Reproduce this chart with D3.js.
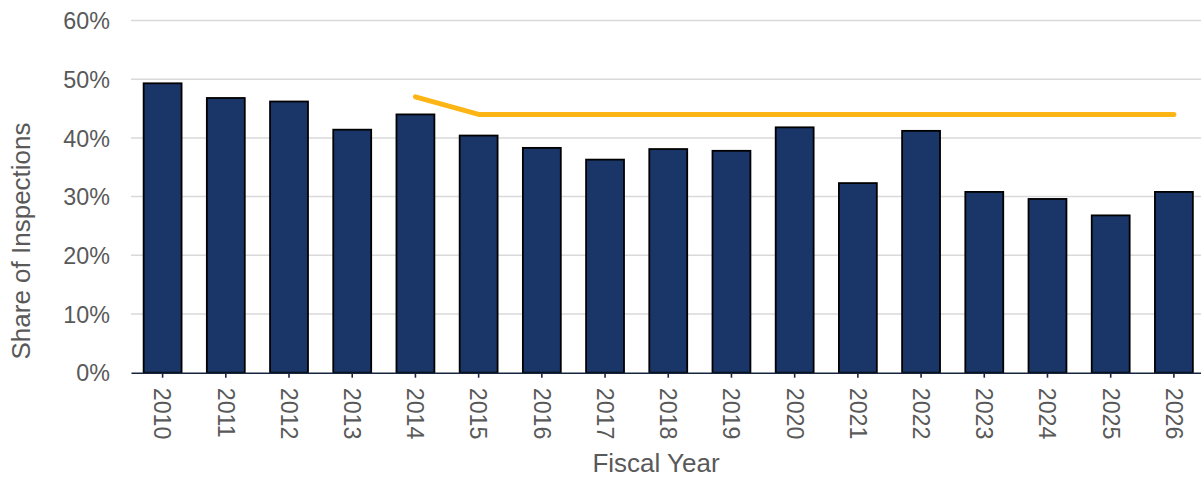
<!DOCTYPE html>
<html>
<head>
<meta charset="utf-8">
<script src="https://cdn.jsdelivr.net/npm/d3@7"></script>
<style>
  html, body { margin: 0; padding: 0; background: #fff; }
  svg { display: block; font-family: "Liberation Sans", Arial, sans-serif; }
</style>
</head>
<body>
<svg id="chart" width="1201" height="477"></svg>
<script>
// Fiscal years on the x axis
const years = ["2010","2011","2012","2013","2014","2015","2016","2017","2018","2019",
               "2020","2021","2022","2023","2024","2025","2026"];
// Share of inspections per year (percent)
const shares = [49.3, 46.8, 46.2, 41.4, 44.0, 40.4, 38.3, 36.3, 38.1, 37.8,
                41.8, 32.3, 41.2, 30.8, 29.6, 26.8, 30.8];
// Goal line (percent), 2014 onward
const goalYears = ["2014","2015","2016","2017","2018","2019","2020","2021","2022",
                   "2023","2024","2025","2026"];
const goalValues = [47, 44, 44, 44, 44, 44, 44, 44, 44, 44, 44, 44, 44];
// Y axis ticks (percent)
const yTicks = [0, 10, 20, 30, 40, 50, 60];

const svg = d3.select("#chart");
const plot = { left: 131, right: 1205.5, top: 20.5, bottom: 372.7 };

const x = d3.scaleBand()
  .domain(years)
  .range([plot.left, plot.right])
  .paddingInner(0.4)
  .paddingOuter(0.2);

const y = d3.scaleLinear()
  .domain([0, 60])
  .range([plot.bottom, plot.top]);

const labelColor = "#595959";

// Horizontal gridlines
svg.append("g")
  .selectAll("line")
  .data(yTicks.filter(d => d > 0))
  .join("line")
  .attr("x1", plot.left)
  .attr("x2", plot.right)
  .attr("y1", d => y(d))
  .attr("y2", d => y(d))
  .attr("stroke", "#d9d9d9")
  .attr("stroke-width", 1.5);

// Y axis labels
const yAxis = d3.axisLeft(y)
  .tickValues(yTicks)
  .tickFormat(d => d + "%")
  .tickSize(0)
  .tickPadding(21);
const gy = svg.append("g")
  .attr("transform", `translate(${plot.left},0)`)
  .call(yAxis);
gy.select(".domain").remove();
gy.selectAll("text")
  .attr("fill", labelColor)
  .style("font-size", "23.3px")
  .attr("dy", "0.35em");

// Bars
svg.append("g")
  .selectAll("rect")
  .data(years.map((yr, i) => ({ yr, v: shares[i] })))
  .join("rect")
  .attr("x", d => x(d.yr))
  .attr("width", x.bandwidth())
  .attr("y", d => y(d.v))
  .attr("height", d => y(0) - y(d.v))
  .attr("fill", "#1a3668")
  .attr("stroke", "#000")
  .attr("stroke-width", 1.8);

// X axis
const xAxis = d3.axisBottom(x)
  .tickSize(5)
  .tickSizeOuter(0)
  .tickPadding(0);
const gx = svg.append("g")
  .attr("transform", `translate(0,${plot.bottom})`)
  .call(xAxis);
gx.select(".domain")
  .attr("stroke", "#17263f")
  .attr("stroke-width", 1.6);
gx.selectAll(".tick line")
  .attr("stroke", "#17263f")
  .attr("stroke-width", 1.6);
gx.selectAll(".tick text")
  .attr("fill", labelColor)
  .style("font-size", "23.3px")
  .attr("transform", "rotate(90)")
  .attr("x", 15)
  .attr("y", 0)
  .attr("dy", "0.35em")
  .attr("text-anchor", "start");

// Goal line
const line = d3.line()
  .x((d, i) => x(goalYears[i]) + x.bandwidth() / 2)
  .y(d => y(d));
svg.append("path")
  .datum(goalValues)
  .attr("d", line)
  .attr("fill", "none")
  .attr("stroke", "#fdb515")
  .attr("stroke-width", 5)
  .attr("stroke-linecap", "round")
  .attr("stroke-linejoin", "round");

// Axis titles
svg.append("text")
  .attr("transform", `translate(30,241) rotate(-90)`)
  .attr("text-anchor", "middle")
  .attr("fill", labelColor)
  .style("font-size", "26px")
  .text("Share of Inspections");

svg.append("text")
  .attr("x", 656)
  .attr("y", 472)
  .attr("text-anchor", "middle")
  .attr("fill", labelColor)
  .style("font-size", "26px")
  .text("Fiscal Year");
</script>
</body>
</html>
